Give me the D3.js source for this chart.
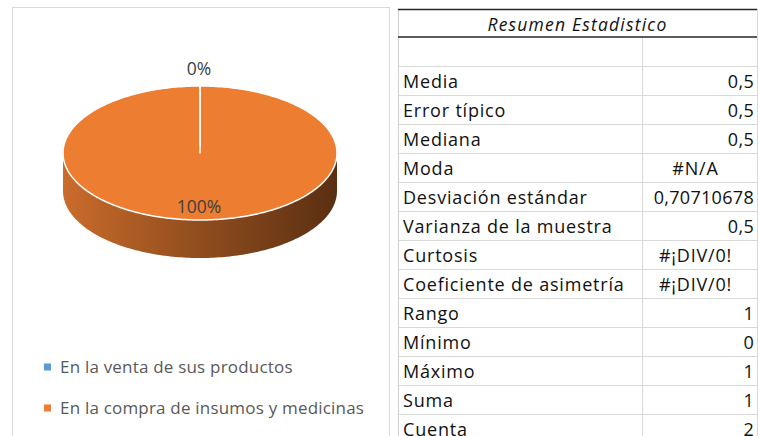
<!DOCTYPE html>
<html>
<head>
<meta charset="utf-8">
<script src="https://cdn.jsdelivr.net/npm/d3@7"></script>
<style>
  body { margin: 0; background: #fff; }
  svg { display: block; font-family: "Open Sans", sans-serif; }
</style>
</head>
<body>
<div id="chart"></div>
<script>
// Pie data
const categories = ['En la venta de sus productos', 'En la compra de insumos y medicinas'];
const shares = [0, 1];
const colors = ['#5B9BD5', '#ED7D31'];

// Summary table data
const tableTitle = 'Resumen Estadistico';
const statLabels = ['Media', 'Error típico', 'Mediana', 'Moda', 'Desviación estándar',
    'Varianza de la muestra', 'Curtosis', 'Coeficiente de asimetría', 'Rango',
    'Mínimo', 'Máximo', 'Suma', 'Cuenta'];
const statValues = ['0,5', '0,5', '0,5', '#N/A', '0,70710678', '0,5', '#¡DIV/0!',
    '#¡DIV/0!', '1', '0', '1', '1', '2'];

const width = 758, height = 436;
const svg = d3.select('#chart').append('svg')
    .attr('width', width)
    .attr('height', height);

// Chart frame
svg.append('rect')
    .attr('x', 12.5).attr('y', 7.5)
    .attr('width', 377).attr('height', 440)
    .attr('fill', '#fff')
    .attr('stroke', '#d9d9d9');

// 3D pie
const cx = 200, cy = 153, rx = 137, ry = 67, depth = 38;
const pt = (a, dy = 0) => [cx + rx * Math.sin(a), cy - ry * Math.cos(a) + dy];

const arcs = d3.pie().sort(null).startAngle(0).endAngle(2 * Math.PI)(shares);

const defs = svg.append('defs');
const grad = defs.append('linearGradient')
    .attr('id', 'side')
    .attr('gradientUnits', 'userSpaceOnUse')
    .attr('x1', cx - rx).attr('x2', cx + rx).attr('y1', 0).attr('y2', 0);
grad.append('stop').attr('offset', '0%').attr('stop-color', '#CB6B2C');
grad.append('stop').attr('offset', '45%').attr('stop-color', '#95501F');
grad.append('stop').attr('offset', '100%').attr('stop-color', '#5A2F12');

function ellipseArc(p, a0, a1, dy) {
    const steps = Math.max(2, Math.ceil(Math.abs(a1 - a0) / 0.02));
    for (let i = 0; i <= steps; i++) {
        const [x, y] = pt(a0 + (a1 - a0) * i / steps, dy);
        p.lineTo(x, y);
    }
}

// Side walls (front half only: angles between PI/2 and 3PI/2)
arcs.forEach((d, i) => {
    const a0 = Math.max(d.startAngle, Math.PI / 2);
    const a1 = Math.min(d.endAngle, 3 * Math.PI / 2);
    if (a1 <= a0) return;
    const p = d3.path();
    p.moveTo(...pt(a0));
    ellipseArc(p, a0, a1, 0);
    p.lineTo(...pt(a1, depth));
    ellipseArc(p, a1, a0, depth);
    p.closePath();
    svg.append('path')
        .attr('d', p.toString())
        .attr('fill', i === 1 ? 'url(#side)' : d3.color(colors[i]).darker(1));
});

// Top faces
arcs.forEach((d, i) => {
    if (d.endAngle - d.startAngle <= 0) return;
    const p = d3.path();
    p.moveTo(cx, cy);
    p.lineTo(...pt(d.startAngle));
    ellipseArc(p, d.startAngle, d.endAngle, 0);
    p.closePath();
    svg.append('path')
        .attr('d', p.toString())
        .attr('fill', colors[i])
        .attr('stroke', '#fff')
        .attr('stroke-width', 1.5)
        .attr('stroke-linejoin', 'round');
});

// Zero slice separator
arcs.forEach(d => {
    if (d.endAngle - d.startAngle > 0) return;
    svg.append('line')
        .attr('x1', cx).attr('y1', cy - 7)
        .attr('x2', pt(d.startAngle)[0]).attr('y2', pt(d.startAngle)[1])
        .attr('stroke', '#fff').attr('stroke-width', 1.5);
});

// Data labels
const fmt = d3.format('.0%');
svg.append('text')
    .attr('x', cx - 1).attr('y', 75)
    .attr('text-anchor', 'middle')
    .attr('fill', '#404040')
    .style('font-size', '17.5px')
    .text(fmt(shares[0]));
svg.append('text')
    .attr('x', cx - 1).attr('y', 213)
    .attr('text-anchor', 'middle')
    .attr('fill', '#404040')
    .style('font-size', '17.5px')
    .text(fmt(shares[1]));

// Legend
const legend = svg.selectAll('g.legend')
    .data(categories)
    .join('g')
    .attr('class', 'legend')
    .attr('transform', (d, i) => `translate(44, ${367 + i * 41})`);
legend.append('rect')
    .attr('x', 0).attr('y', -3.5)
    .attr('width', 7).attr('height', 7)
    .attr('fill', (d, i) => colors[i]);
legend.append('text')
    .attr('x', 16).attr('y', 6)
    .attr('fill', '#595959')
    .style('font-size', '17px')
    .style('letter-spacing', '0.2px')
    .text(d => d);

// Table
const tx0 = 398, tx1 = 642, tx2 = 757;
const y = d3.scaleLinear().domain([0, 1]).range([66, 95]);

const table = svg.append('g');
// horizontal grid
table.selectAll('line.row')
    .data(d3.range(statLabels.length + 1))
    .join('line')
    .attr('x1', tx0).attr('x2', tx2)
    .attr('y1', i => y(i) + 0.5).attr('y2', i => y(i) + 0.5)
    .attr('stroke', '#d9d9d9');
// vertical grid
table.append('line').attr('x1', tx0 + 0.5).attr('x2', tx0 + 0.5)
    .attr('y1', 9).attr('y2', height).attr('stroke', '#d0d0d0');
table.append('line').attr('x1', tx1 + 0.5).attr('x2', tx1 + 0.5)
    .attr('y1', 37).attr('y2', height).attr('stroke', '#d9d9d9');
table.append('line').attr('x1', tx2 + 0.5).attr('x2', tx2 + 0.5)
    .attr('y1', 9).attr('y2', height).attr('stroke', '#d9d9d9');
// title borders
table.append('line').attr('x1', tx0).attr('x2', tx2)
    .attr('y1', 9.5).attr('y2', 9.5).attr('stroke', '#262626').attr('stroke-width', 1.6);
table.append('line').attr('x1', tx0).attr('x2', tx2)
    .attr('y1', 37).attr('y2', 37).attr('stroke', '#262626').attr('stroke-width', 1.6);

table.append('text')
    .attr('x', (tx0 + tx2) / 2).attr('y', 31)
    .attr('text-anchor', 'middle')
    .attr('fill', '#111')
    .style('font-size', '17.5px')
    .style('font-style', 'italic')
    .style('letter-spacing', '1.2px')
    .text(tableTitle);

table.selectAll('text.lab')
    .data(statLabels)
    .join('text')
    .attr('class', 'lab')
    .attr('x', tx0 + 5)
    .attr('y', (d, i) => y(i) + 22)
    .attr('fill', '#111')
    .style('font-size', '18px')
    .style('letter-spacing', '0.8px')
    .text(d => d);

table.selectAll('text.val')
    .data(statValues)
    .join('text')
    .attr('class', 'val')
    .attr('x', d => d.startsWith('#') ? (tx1 + tx2) / 2 - 4 : tx2 - 3)
    .attr('y', (d, i) => y(i) + 22)
    .attr('text-anchor', d => d.startsWith('#') ? 'middle' : 'end')
    .attr('fill', '#111')
    .style('font-size', '18px')
    .style('letter-spacing', d => d.startsWith('#') ? '0.8px' : '0.3px')
    .text(d => d);
</script>
</body>
</html>
